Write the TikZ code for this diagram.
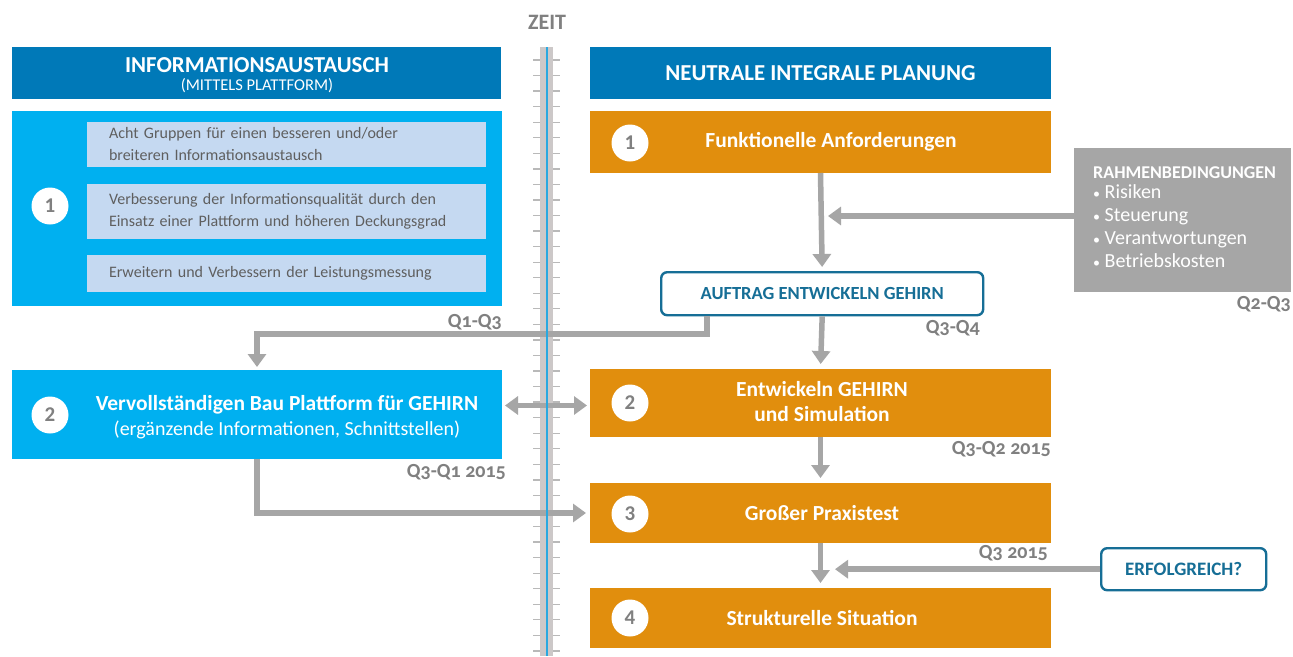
\documentclass[tikz,border=0pt]{standalone}
\usepackage{fontspec}
\setmainfont{Carlito}
\newfontfamily\qfont[Numbers=OldStyle]{Carlito}
\usetikzlibrary{arrows.meta}
\definecolor{hdrblue}{RGB}{0,121,184}
\definecolor{cyanbox}{RGB}{0,176,240}
\definecolor{orangebox}{RGB}{225,142,13}
\definecolor{lightbox}{RGB}{197,217,241}
\definecolor{graybox}{RGB}{166,166,166}
\definecolor{arrowgray}{RGB}{166,166,166}
\definecolor{textgray}{RGB}{95,95,95}
\definecolor{qgray}{RGB}{128,128,128}
\definecolor{frameblue}{RGB}{22,110,150}
\definecolor{barblue}{RGB}{41,168,224}
\definecolor{bargray}{RGB}{204,200,200}
\definecolor{tickgray}{RGB}{185,185,185}
\newcommand{\fs}[2]{\fontsize{#1}{#2}\selectfont}
\tikzset{
  x=1pt, y=-1pt,
  plainbox/.style={rectangle, inner sep=0pt, outer sep=0pt, anchor=north west, text=white, align=center},
  hdrbox/.style={plainbox, fill=hdrblue},
  cybox/.style={plainbox, fill=cyanbox},
  orbox/.style={plainbox, fill=orangebox, minimum width=461pt},
  libox/.style={plainbox, fill=lightbox, minimum width=399pt, text=textgray, align=left, text width=355pt, inner xsep=22pt},
  grbox/.style={plainbox, fill=graybox, align=left},
  rbox/.style={rectangle, rounded corners=6pt, draw=frameblue, line width=2.4pt, fill=white, text=frameblue, font=\bfseries\fs{18.5}{20}, inner sep=0pt},
  numcirc/.style={circle, fill=white, minimum size=37pt, inner sep=0pt, text=qgray, font=\bfseries\fs{21}{22}},
  qlab/.style={inner sep=0pt, text=qgray, font=\qfont\bfseries\fs{20}{22}},
  arr/.style={draw=arrowgray, line width=5.5pt, -{Triangle[width=18pt,length=13pt]}},
  darr/.style={draw=arrowgray, line width=5.5pt, {Triangle[width=18pt,length=13pt]}-{Triangle[width=18pt,length=13pt]}},
  plainline/.style={draw=arrowgray, line width=5.5pt}
}
\begin{document}
\begin{tikzpicture}
\useasboundingbox (0,0) rectangle (1293,656);
\fill[white] (0,0) rectangle (1293,656);

% time axis ticks and bar (base)
\foreach \i in {0,...,38} {
  \draw[tickgray, line width=1.3pt] (533,60+15.55*\i) -- (560,60+15.55*\i);
}
\fill[bargray] (540,47) rectangle (553,656);
\node[inner sep=0pt, text=qgray, font=\bfseries\fs{22}{24}] (zeit) at (547,22) {ZEIT};

% headers
\node[hdrbox, minimum width=489pt, minimum height=52pt] (lhdr) at (12,47) {};
\node[text=white, font=\bfseries\fs{22.8}{24}, inner sep=0pt] (lhdrt) at (257,65) {INFORMATIONSAUSTAUSCH};
\node[text=white, font=\fs{16.5}{18}, inner sep=0pt] (lhdrs) at (257,86) {(MITTELS PLATTFORM)};
\node[hdrbox, minimum width=461pt, minimum height=52pt, font=\bfseries\fs{22.8}{24}] (rhdr) at (590,47) {NEUTRALE INTEGRALE PLANUNG};

% left box 1
\node[cybox, minimum width=490pt, minimum height=195pt] (lb1) at (12,111) {};
\node[libox, minimum height=45pt, font=\fs{16}{22}] (la) at (87,122) {Acht Gruppen für einen besseren und/oder\\breiteren Informationsaustausch};
\node[libox, minimum height=55pt, font=\fs{16}{22}] (lbb) at (87,184) {Verbesserung der Informationsqualität durch den\\Einsatz einer Plattform und höheren Deckungsgrad};
\node[libox, minimum height=37pt, font=\fs{16}{22}] (lc) at (87,255) {Erweitern und Verbessern der Leistungsmessung};
\node[numcirc] (c1) at (50,206) {1};
\node[qlab, anchor=east] (q1) at (502,322) {Q1-Q3};

% left box 2
\node[cybox, minimum width=490pt, minimum height=89pt] (lb2) at (12,370) {};
\node[numcirc] (c2) at (50,415) {2};
\node[text=white, font=\bfseries\fs{21.5}{22}, inner sep=0pt] (lb2a) at (287,405) {Vervollständigen Bau Plattform für GEHIRN};
\node[text=white, font=\fs{20}{22}, inner sep=0pt] (lb2b) at (287,430) {(ergänzende Informationen, Schnittstellen)};
\node[qlab, anchor=east] (q2) at (506,472) {Q3-Q1 2015};

% right orange boxes
\node[orbox, minimum height=62pt] (o1) at (590,111) {};
\node[text=white, font=\bfseries\fs{21.5}{22}, inner sep=0pt] (o1t) at (831,142) {Funktionelle Anforderungen};
\node[numcirc] (oc1) at (630,143) {1};

\node[rbox, minimum width=322pt, minimum height=43pt, anchor=north west] (auf) at (660,271) {AUFTRAG ENTWICKELN GEHIRN};
\node[qlab, anchor=east] (q3) at (980,328) {Q3-Q4};

\node[orbox, minimum height=68pt] (o2) at (590,369) {};
\node[text=white, font=\bfseries\fs{21.5}{25}, inner sep=0pt, align=center] (o2t) at (822,402) {Entwickeln GEHIRN\\und Simulation};
\node[numcirc] (oc2) at (630,403) {2};
\node[qlab, anchor=east] (q4) at (1051,449) {Q3-Q2 2015};

\node[orbox, minimum height=60pt] (o3) at (590,483) {};
\node[text=white, font=\bfseries\fs{21.5}{22}, inner sep=0pt] (o3t) at (822,513) {Großer Praxistest};
\node[numcirc] (oc3) at (630,514) {3};
\node[qlab, anchor=east] (q5) at (1048,553) {Q3 2015};

\node[orbox, minimum height=60pt] (o4) at (590,588) {};
\node[text=white, font=\bfseries\fs{21.5}{22}, inner sep=0pt] (o4t) at (822,618) {Strukturelle Situation};
\node[numcirc] (oc4) at (630,618) {4};

% Rahmenbedingungen
\node[grbox, minimum width=217pt, minimum height=144pt] (rb) at (1074,148) {};
\node[anchor=west, inner sep=0pt, text=white, font=\bfseries\fs{18}{20}] (rbh) at (1093,173) {RAHMENBEDINGUNGEN};
\node[anchor=north west, inner sep=0pt, text=white, font=\fs{20}{23.2}, align=left] (rbl) at (1093,184) {{\fs{14}{23.2}•} Risiken\\{\fs{14}{23.2}•} Steuerung\\{\fs{14}{23.2}•} Verantwortungen\\{\fs{14}{23.2}•} Betriebskosten};
\node[qlab, anchor=east] (q6) at (1291,304) {Q2-Q3};

% Erfolgreich
\node[rbox, minimum width=165pt, minimum height=42pt, anchor=north west, font=\bfseries\fs{19}{20}] (erf) at (1100,547) {ERFOLGREICH?};

% connectors
\coordinate (rbin) at (828,216);
\coordinate (jn) at (257,334);
\coordinate (erftip) at (835,568);
\draw[arr, shorten >=4pt] (o1.south) -- (auf.north);
\draw[arr] (rb.west |- rbin) -- (rbin);
\draw[arr, shorten >=3pt] ([xshift=-115pt]auf.south) |- (jn) -- (lb2.north);
\draw[arr, shorten >=5pt] (auf.south) -- (o2.north);
\draw[darr, shorten >=3pt, shorten <=3pt] ([yshift=9pt]lb2.east) -- ([yshift=9pt]lb2.east -| o2.west);
\draw[arr, shorten >=5pt] (o2.south) -- (o3.north);
\draw[arr, shorten >=4pt] (lb2.south) |- (o3.west);
\draw[arr, shorten >=5pt] (o3.south) -- (o4.north);
\draw[arr] (erf.west) -- (erf.west -| erftip);

% blue centre line on top
\draw[barblue, line width=2.4pt] (546.7,47) -- (546.7,656);
\end{tikzpicture}
\end{document}
